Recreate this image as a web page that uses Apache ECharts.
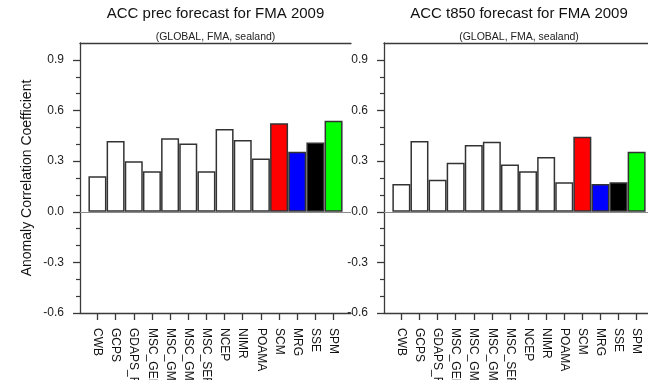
<!DOCTYPE html>
<html>
<head>
<meta charset="utf-8">
<script src="https://cdn.jsdelivr.net/npm/echarts@6/dist/echarts.min.js"></script>
<style>
html,body{margin:0;padding:0;background:#fff;}
#chart{width:648px;height:380px;}
</style>
</head>
<body>
<div id="chart"></div>
<script>
// ---- data ----
const categories = ['CWB','GCPS','GDAPS_F','MSC_GEM','MSC_GM2','MSC_GM3','MSC_SEF','NCEP','NIMR','POAMA','SCM','MRG','SSE','SPM'];
const precValues = [0.21, 0.42, 0.30, 0.24, 0.435, 0.405, 0.24, 0.49, 0.425, 0.315, 0.525, 0.355, 0.41, 0.54];
const t850Values = [0.165, 0.42, 0.19, 0.29, 0.395, 0.415, 0.28, 0.24, 0.325, 0.175, 0.445, 0.165, 0.175, 0.355];
const yTickValues = [-0.6, -0.3, 0.0, 0.3, 0.6, 0.9];
const yMinorValues = [-0.5, -0.4, -0.2, -0.1, 0.1, 0.2, 0.4, 0.5, 0.7, 0.8];
const titles = ['ACC prec forecast for FMA 2009', 'ACC t850 forecast for FMA 2009'];
const subtitle = '(GLOBAL, FMA, sealand)';
const yTitle = 'Anomaly Correlation Coefficient';

// ---- styles ----
const FONT = '"Liberation Sans", Arial, Helvetica, sans-serif';
const fillByName = { SCM: '#ff0000', MRG: '#0000ff', SSE: '#000000', SPM: '#00ff00' };
const AX = '#3a3a3a';

const grids = [
  { left: 80, top: 43, width: 271, height: 270 },
  { left: 384, top: 43, width: 270, height: 270 }
];
const plotCenters = [215.5, 519];
const seriesValues = [precValues, t850Values];

const option = {
  animation: false,
  backgroundColor: '#ffffff',
  textStyle: { fontFamily: FONT },
  title: [],
  grid: grids.map(g => Object.assign({ show: false, containLabel: false, outerBoundsMode: 'none' }, g)),
  xAxis: [],
  yAxis: [],
  series: []
};

[0, 1].forEach(k => {
  option.title.push({
    text: titles[k], left: plotCenters[k], top: 6, textAlign: 'center', padding: 0,
    textStyle: { fontFamily: FONT, fontSize: 15, fontWeight: 'normal', color: '#111' }
  });
  option.title.push({
    text: subtitle, left: plotCenters[k], top: 32, textAlign: 'center', padding: 0,
    textStyle: { fontFamily: FONT, fontSize: 10.5, fontWeight: 'normal', color: '#222' }
  });
  const idx = categories.map((c, i) => i);
  // bottom category-like value axis
  option.xAxis.push({
    type: 'value', gridIndex: k, position: 'bottom', min: -0.96, max: 13.96,
    axisLine: { show: true, onZero: false, lineStyle: { color: AX, width: 1.3 } },
    axisTick: { show: true, length: 7, customValues: idx, lineStyle: { color: AX, width: 1.3 } },
    axisLabel: {
      show: true, customValues: idx, rotate: -90, margin: 15,
      fontFamily: FONT, fontSize: 12, color: '#111',
      formatter: v => categories[Math.round(v)] || ''
    },
    splitLine: { show: false }
  });
  // top frame line
  option.xAxis.push({
    type: 'value', gridIndex: k, position: 'top', min: -0.96, max: 13.96,
    axisLine: { show: true, onZero: false, lineStyle: { color: AX, width: 1.3 } },
    axisTick: { show: false }, axisLabel: { show: false }, splitLine: { show: false }
  });
  // major y axis
  option.yAxis.push({
    type: 'value', gridIndex: k, position: 'left', min: -0.6, max: 1.0,
    name: k === 0 ? yTitle : '', nameLocation: 'middle', nameGap: 46, nameRotate: 90,
    nameTextStyle: { fontFamily: FONT, fontSize: 14, color: '#111' },
    axisLine: { show: true, onZero: false, lineStyle: { color: AX, width: 1.3 } },
    axisTick: { show: true, length: 7, customValues: yTickValues, lineStyle: { color: AX, width: 1.3 } },
    axisLabel: {
      show: true, customValues: yTickValues, margin: 16,
      fontFamily: FONT, fontSize: 12, color: '#222',
      formatter: v => Number(v).toFixed(1)
    },
    splitLine: { show: false }
  });
  // minor y ticks
  option.yAxis.push({
    type: 'value', gridIndex: k, position: 'left', offset: 0, min: -0.6, max: 1.0,
    axisLine: { show: false, onZero: false },
    axisTick: { show: true, length: 4, customValues: yMinorValues, lineStyle: { color: AX, width: 1.2 } },
    axisLabel: { show: false }, splitLine: { show: false }
  });

  option.series.push({
    type: 'bar',
    xAxisIndex: k * 2, yAxisIndex: k * 2,
    barWidth: 18,
    data: seriesValues[k].map((v, i) => [i, v]),
    itemStyle: {
      color: p => fillByName[categories[p.dataIndex]] || '#ffffff',
      borderColor: '#333', borderWidth: 1.5
    },
    markLine: {
      silent: true, symbol: ['none', 'none'], label: { show: false },
      lineStyle: { color: '#8a8a8a', type: 'solid', width: 1 },
      data: [{ yAxis: 0 }]
    }
  });
});

const chart = echarts.init(document.getElementById('chart'), null, { renderer: 'canvas' });
chart.setOption(option);
</script>
</body>
</html>
